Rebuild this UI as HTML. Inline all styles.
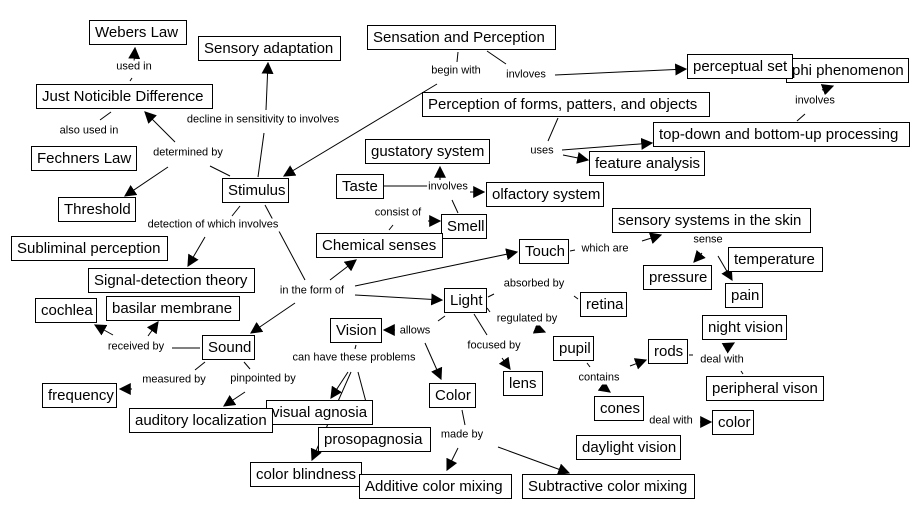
<!DOCTYPE html>
<html><head><meta charset="utf-8"><style>
body{margin:0;width:922px;height:519px;background:#fff;position:relative;overflow:hidden;font-family:"Liberation Sans",sans-serif}
.b{position:absolute;box-sizing:border-box;border:1px solid #000;background:#fff;font-size:15px;line-height:23px;padding:0 5px;white-space:nowrap;color:#000}
.l{position:absolute;font-size:11px;line-height:13px;background:#fff;white-space:nowrap;transform:translate(-50%,-50%);color:#000;padding:0 1px}
svg{position:absolute;left:0;top:0}
</style></head><body>
<svg width="922" height="519">
<defs><marker id="a" viewBox="0 0 10 10" refX="9" refY="5" markerWidth="12" markerHeight="12" markerUnits="userSpaceOnUse" orient="auto"><path d="M0,0L10,5L0,10z" fill="#000"/></marker></defs>
<g stroke="#000" stroke-width="1" fill="none">
<line x1="130" y1="81" x2="132" y2="78"/><line x1="134" y1="62" x2="135" y2="48" marker-end="url(#a)"/>
<line x1="111" y1="112" x2="100" y2="120"/>
<line x1="230" y1="176" x2="210" y2="166"/><line x1="175" y1="142" x2="145" y2="112" marker-end="url(#a)"/><line x1="168" y1="167" x2="125" y2="196" marker-end="url(#a)"/>
<line x1="258" y1="177" x2="264" y2="133"/><line x1="266" y1="110" x2="268" y2="63" marker-end="url(#a)"/>
<line x1="458" y1="52" x2="457" y2="62"/><line x1="437" y1="84" x2="284" y2="176" marker-end="url(#a)"/>
<line x1="487" y1="51" x2="506" y2="64"/><line x1="555" y1="75" x2="686" y2="69" marker-end="url(#a)"/>
<line x1="558" y1="118" x2="548" y2="141"/><line x1="562" y1="150" x2="652" y2="143" marker-end="url(#a)"/><line x1="563" y1="155" x2="588" y2="160" marker-end="url(#a)"/>
<line x1="797" y1="121" x2="805" y2="114"/><line x1="822" y1="90" x2="833" y2="86" marker-end="url(#a)"/>
<line x1="384" y1="186" x2="428" y2="186"/><line x1="440" y1="180" x2="440" y2="167" marker-end="url(#a)"/><line x1="470" y1="192" x2="484" y2="192" marker-end="url(#a)"/><line x1="452" y1="200" x2="458" y2="213"/>
<line x1="389" y1="230" x2="393" y2="225"/><line x1="428" y1="221" x2="440" y2="221" marker-end="url(#a)"/>
<line x1="240" y1="206" x2="232" y2="216"/><line x1="265" y1="205" x2="305" y2="280"/>
<line x1="205" y1="237" x2="188" y2="266" marker-end="url(#a)"/>
<line x1="330" y1="280" x2="356" y2="260" marker-end="url(#a)"/><line x1="355" y1="286" x2="517" y2="252" marker-end="url(#a)"/><line x1="355" y1="295" x2="442" y2="300" marker-end="url(#a)"/><line x1="295" y1="303" x2="251" y2="333" marker-end="url(#a)"/>
<line x1="570" y1="251" x2="575" y2="250"/><line x1="642" y1="241" x2="661" y2="235" marker-end="url(#a)"/>
<line x1="702" y1="253" x2="694" y2="262" marker-end="url(#a)"/><line x1="718" y1="256" x2="732" y2="280" marker-end="url(#a)"/>
<line x1="488" y1="297" x2="494" y2="294"/><line x1="574" y1="296" x2="578" y2="299"/>
<line x1="487" y1="308" x2="490" y2="312"/><line x1="540" y1="330" x2="545" y2="332" marker-end="url(#a)"/>
<line x1="474" y1="314" x2="487" y2="335"/><line x1="502" y1="358" x2="510" y2="369" marker-end="url(#a)"/>
<line x1="445" y1="316" x2="438" y2="321"/><line x1="395" y1="330" x2="384" y2="330" marker-end="url(#a)"/><line x1="425" y1="343" x2="441" y2="379" marker-end="url(#a)"/>
<line x1="587" y1="363" x2="590" y2="367"/><line x1="630" y1="366" x2="646" y2="360" marker-end="url(#a)"/><line x1="603" y1="387" x2="610" y2="392" marker-end="url(#a)"/>
<line x1="689" y1="355" x2="693" y2="355"/><line x1="727" y1="347" x2="734" y2="343" marker-end="url(#a)"/><line x1="741" y1="371" x2="743" y2="374"/>
<line x1="700" y1="422" x2="711" y2="422" marker-end="url(#a)"/>
<line x1="200" y1="348" x2="172" y2="348"/><line x1="113" y1="335" x2="95" y2="325" marker-end="url(#a)"/><line x1="148" y1="336" x2="158" y2="322" marker-end="url(#a)"/>
<line x1="205" y1="362" x2="195" y2="370"/><line x1="132" y1="389" x2="120" y2="389" marker-end="url(#a)"/>
<line x1="244" y1="362" x2="250" y2="369"/><line x1="245" y1="392" x2="224" y2="406" marker-end="url(#a)"/>
<line x1="356" y1="345" x2="355" y2="349"/><line x1="348" y1="372" x2="331" y2="398" marker-end="url(#a)"/><line x1="358" y1="372" x2="366" y2="402"/><line x1="351" y1="372" x2="312" y2="460" marker-end="url(#a)"/>
<line x1="462" y1="410" x2="465" y2="425"/><line x1="458" y1="448" x2="447" y2="470" marker-end="url(#a)"/><line x1="498" y1="447" x2="569" y2="473" marker-end="url(#a)"/>
</g></svg>
<div class="b" style="left:89px;top:20px;width:98px">Webers Law</div>
<div class="b" style="left:198px;top:36px;width:143px">Sensory adaptation</div>
<div class="b" style="left:367px;top:25px;width:189px">Sensation and Perception</div>
<div class="b" style="left:36px;top:84px;width:177px">Just Noticible Difference</div>
<div class="b" style="left:786px;top:58px;width:123px">phi phenomenon</div>
<div class="b" style="left:687px;top:54px;width:106px">perceptual set</div>
<div class="b" style="left:422px;top:92px;width:288px">Perception of forms, patters, and objects</div>
<div class="b" style="left:653px;top:122px;width:257px">top-down and bottom-up processing</div>
<div class="b" style="left:589px;top:151px;width:116px">feature analysis</div>
<div class="b" style="left:31px;top:146px;width:106px">Fechners Law</div>
<div class="b" style="left:365px;top:139px;width:125px">gustatory system</div>
<div class="b" style="left:336px;top:174px;width:48px">Taste</div>
<div class="b" style="left:486px;top:182px;width:118px">olfactory system</div>
<div class="b" style="left:222px;top:178px;width:67px">Stimulus</div>
<div class="b" style="left:58px;top:197px;width:78px">Threshold</div>
<div class="b" style="left:441px;top:214px;width:46px">Smell</div>
<div class="b" style="left:316px;top:233px;width:127px">Chemical senses</div>
<div class="b" style="left:11px;top:236px;width:157px">Subliminal perception</div>
<div class="b" style="left:612px;top:208px;width:199px">sensory systems in the skin</div>
<div class="b" style="left:519px;top:239px;width:50px">Touch</div>
<div class="b" style="left:728px;top:247px;width:95px">temperature</div>
<div class="b" style="left:643px;top:265px;width:69px">pressure</div>
<div class="b" style="left:725px;top:283px;width:38px">pain</div>
<div class="b" style="left:88px;top:268px;width:167px">Signal-detection theory</div>
<div class="b" style="left:106px;top:296px;width:134px">basilar membrane</div>
<div class="b" style="left:35px;top:298px;width:62px">cochlea</div>
<div class="b" style="left:444px;top:288px;width:43px">Light</div>
<div class="b" style="left:580px;top:292px;width:47px">retina</div>
<div class="b" style="left:330px;top:318px;width:52px">Vision</div>
<div class="b" style="left:702px;top:315px;width:85px">night vision</div>
<div class="b" style="left:553px;top:336px;width:41px">pupil</div>
<div class="b" style="left:648px;top:339px;width:40px">rods</div>
<div class="b" style="left:202px;top:335px;width:53px">Sound</div>
<div class="b" style="left:503px;top:371px;width:40px">lens</div>
<div class="b" style="left:706px;top:376px;width:118px">peripheral vison</div>
<div class="b" style="left:42px;top:383px;width:75px">frequency</div>
<div class="b" style="left:429px;top:383px;width:47px">Color</div>
<div class="b" style="left:594px;top:396px;width:50px">cones</div>
<div class="b" style="left:266px;top:400px;width:107px">visual agnosia</div>
<div class="b" style="left:129px;top:408px;width:144px">auditory localization</div>
<div class="b" style="left:712px;top:410px;width:42px">color</div>
<div class="b" style="left:318px;top:427px;width:113px">prosopagnosia</div>
<div class="b" style="left:576px;top:435px;width:105px">daylight vision</div>
<div class="b" style="left:250px;top:462px;width:112px">color blindness</div>
<div class="b" style="left:359px;top:474px;width:153px">Additive color mixing</div>
<div class="b" style="left:522px;top:474px;width:173px">Subtractive color mixing</div>
<div class="l" style="left:134px;top:67px">used in</div>
<div class="l" style="left:89px;top:131px">also used in</div>
<div class="l" style="left:263px;top:120px">decline in sensitivity to involves</div>
<div class="l" style="left:188px;top:153px">determined by</div>
<div class="l" style="left:456px;top:71px">begin with</div>
<div class="l" style="left:526px;top:75px">invloves</div>
<div class="l" style="left:815px;top:101px">involves</div>
<div class="l" style="left:542px;top:151px">uses</div>
<div class="l" style="left:448px;top:187px">involves</div>
<div class="l" style="left:398px;top:213px">consist of</div>
<div class="l" style="left:213px;top:225px">detection of which involves</div>
<div class="l" style="left:312px;top:291px">in the form of</div>
<div class="l" style="left:605px;top:249px">which are</div>
<div class="l" style="left:708px;top:240px">sense</div>
<div class="l" style="left:534px;top:284px">absorbed by</div>
<div class="l" style="left:527px;top:319px">regulated by</div>
<div class="l" style="left:494px;top:346px">focused by</div>
<div class="l" style="left:415px;top:331px">allows</div>
<div class="l" style="left:599px;top:378px">contains</div>
<div class="l" style="left:722px;top:360px">deal with</div>
<div class="l" style="left:671px;top:421px">deal with</div>
<div class="l" style="left:136px;top:347px">received by</div>
<div class="l" style="left:174px;top:380px">measured by</div>
<div class="l" style="left:263px;top:379px">pinpointed by</div>
<div class="l" style="left:354px;top:358px">can have these problems</div>
<div class="l" style="left:462px;top:435px">made by</div>
</body></html>
